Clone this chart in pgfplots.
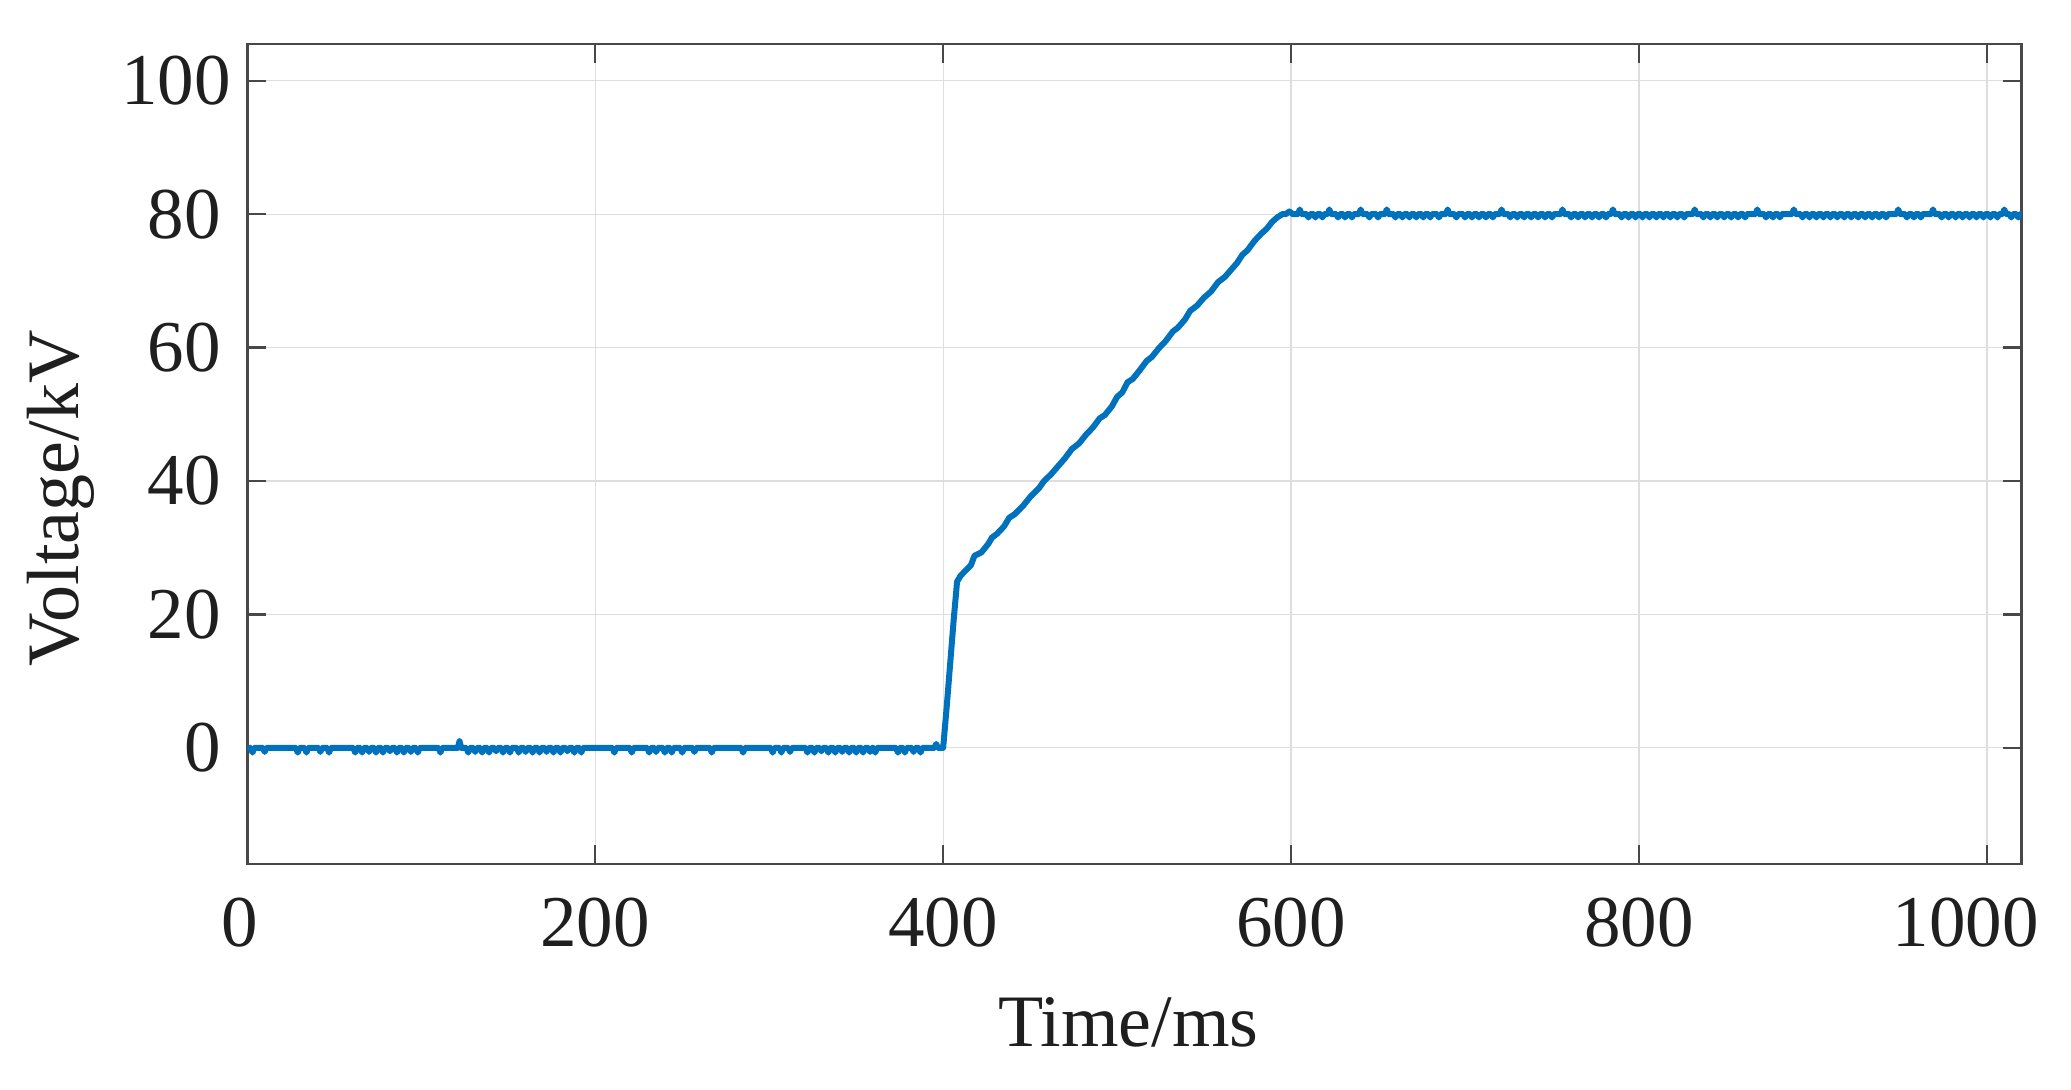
\documentclass[border=0pt]{standalone}
\usepackage{fontspec}
\setmainfont{Liberation Serif}
\usepackage{pgfplots}
\pgfplotsset{compat=1.18}
\definecolor{mblue}{RGB}{0,114,189}
\definecolor{axgray}{RGB}{72,72,72}
\definecolor{gridgray}{RGB}{222,222,222}
\begin{document}
\begin{tikzpicture}
\begin{axis}[
  name=ax,
  scale only axis,
  width=887.2pt,height=410pt,
  xmin=0,xmax=1020,ymin=-17.4,ymax=105.5,
  xtick={0,200,400,600,800,1000},
  xticklabels={{0\rule{8pt}{0pt}},200,400,600,800,{1000\rule{21pt}{0pt}}},
  ytick={0,20,40,60,80,100},
  yticklabels={0,20,40,60,80,{100\kern-5pt}},
  tick pos=both,
  tick align=inside,
  major tick length=9.5pt,
  every tick/.style={axgray,line width=1.1pt},
  grid=major,
  major grid style={gridgray,line width=0.6pt},
  axis line style={axgray,line width=1.4pt},
  tick label style={font=\fontsize{36.5}{40}\selectfont,text=black!88},
  xticklabel style={anchor=north,inner sep=0pt,yshift=-17pt},
  yticklabel style={anchor=east,inner sep=0pt,xshift=-13pt},
  label style={font=\fontsize{37}{42}\selectfont,text=black!88},
  xlabel={Time/ms},
  ylabel={Voltage/kV},
  xlabel style={at={(axis description cs:0.4966,-0.222)},anchor=base},
  ylabel style={at={(axis description cs:-0.0952,0.4457)},anchor=base},
]
\addplot[mblue,line width=3pt,line join=round] coordinates {
(0,0)(2,0)(3,-0.7)(4,0)(9,0)(10,-0.6)(11,0)(28,0)(29,-0.7)(30,0)(33,0)(34,-0.7)(35,0)(41,0)(42,-0.6)(43,0)(46,0)(47,-0.7)(48,0)
(61,0)(62,-0.7)(63,0)(65,0)(66,-0.7)(67,0)(69,0)(70,-0.6)(71,0)(73,0)(74,-0.7)(75,0)(77,0)(78,-0.7)(79,0)(81,0)(82,-0.5)(83,0)(85,0)(86,-0.7)(87,0)(89,0)(90,-0.7)(91,0)(93,0)(94,-0.6)(95,0)(97,0)(98,-0.7)(99,0)
(110,0)(111,-0.7)(112,0)(121,0)(122,1.0)(123,0)
(126,0)(127,-0.7)(128,0)(130,0)(131,-0.6)(132,0)(134,0)(135,-0.7)(136,0)(138,0)(139,-0.7)(140,0)(142,0)(143,-0.5)(144,0)(146,0)(147,-0.7)(148,0)(150,0)(151,-0.7)(152,0)
(155,0)(156,-0.7)(157,0)(159,0)(160,-0.6)(161,0)(163,0)(164,-0.7)(165,0)(167,0)(168,-0.7)(169,0)(171,0)(172,-0.6)(173,0)(175,0)(176,-0.7)(177,0)(179,0)(180,-0.7)(181,0)(183,0)(184,-0.5)(185,0)(187,0)(188,-0.7)(189,0)(191,0)(192,-0.7)(193,0)
(210,0)(211,-0.7)(212,0)(220,0)(221,-0.7)(222,0)(230,0)(231,-0.7)(232,0)(234,0)(235,-0.6)(236,0)(239,0)(240,-0.7)(241,0)(243,0)(244,-0.7)(245,0)(249,0)(250,-0.7)(251,0)(256,0)(257,-0.6)(258,0)(266,0)(267,-0.7)(268,0)(284,0)(285,-0.7)(286,0)
(301,0)(302,-0.7)(303,0)(306,0)(307,-0.7)(308,0)(311,0)(312,-0.6)(313,0)
(321,0)(322,-0.7)(323,0)(325,0)(326,-0.7)(327,0)(329,0)(330,-0.5)(331,0)(333,0)(334,-0.7)(335,0)(337,0)(338,-0.7)(339,0)(341,0)(342,-0.6)(343,0)(345,0)(346,-0.7)(347,0)(349,0)(350,-0.7)(351,0)(353,0)(354,-0.7)(355,0)(357,0)(358,-0.6)(359,0)(360,0)(361,-0.7)(362,0)
(373,0)(374,-0.7)(375,0)(377,0)(378,-0.7)(379,0)(382,0)(383,-0.6)(384,0)(386,0)(387,-0.7)(388,0)(395,0)(396,0.6)(397,0)(400,0)
(402,6)(404,12.5)(406,19)(408,24.9)(410,25.8)(413,26.6)(416,27.4)(418,28.8)(422,29.3)(426,30.6)(428,31.5)(431,32.1)(435,33.2)(438,34.5)(441,35.0)(446,36.3)(450,37.6)(455,38.9)(458,40.0)(462,41.0)(466,42.2)(470,43.4)(474,44.8)(478,45.6)(482,46.9)(486,48.0)(490,49.4)(493,49.9)(497,51.2)(500,52.6)(503,53.3)(506,54.8)(509,55.3)(513,56.6)(517,58.0)(520,58.6)(524,59.9)(528,61.0)(532,62.4)(535,63.0)(539,64.2)(542,65.5)(546,66.3)(550,67.5)(554,68.4)(558,69.8)(562,70.6)(566,71.8)(569,72.7)(572,73.9)(575,74.6)(579,76.0)(583,77.1)(586,77.8)(589,78.8)(592,79.5)(595,80.0)
(597,80)(599,80.4)(601,80)(604,80)(605,80.7)(606,80)(609,80)(610,79.5)(611,80)(613,80)(614,79.5)(615,80)(617,80)(618,79.5)(619,80)(621,80)(622,80.7)(623,80)(626,80)(627,79.5)(628,80)(630,80)(631,79.5)(632,80)(634,80)(635,79.5)(636,80)(639,80)(640,80.7)(641,80)(644,80)(645,79.5)(646,80)(649,80)(650,79.5)(651,80)(654,80)(655,80.7)(656,80)(659,80)(660,79.5)(661,80)(663,80)(664,79.5)(665,80)(667,80)(668,79.5)(669,80)(671,80)(672,79.5)(673,80)(675,80)(676,79.5)(677,80)(679,80)(680,79.5)(681,80)(684,80)(685,79.5)(686,80)(689,80)(690,80.7)(691,80)(694,80)(695,79.5)(696,80)(699,80)(700,79.5)(701,80)(703,80)(704,79.5)(705,80)(707,80)(708,79.5)(709,80)(711,80)(712,79.5)(713,80)(715,80)(716,79.5)(717,80)(720,80)(721,80.7)(722,80)(725,80)(726,79.5)(727,80)(729,80)(730,79.5)(731,80)(733,80)(734,79.5)(735,80)(737,80)(738,79.5)(739,80)(741,80)(742,79.5)(743,80)(745,80)(746,79.5)(747,80)(749,80)(750,79.5)(751,80)(755,80)(756,80.7)(757,80)(760,80)(761,79.5)(762,80)(764,80)(765,79.5)(766,80)(768,80)(769,79.5)(770,80)(772,80)(773,79.5)(774,80)(776,80)(777,79.5)(778,80)(780,80)(781,79.5)(782,80)(784,80)(785,80.7)(786,80)(789,80)(790,79.5)(791,80)(793,80)(794,79.5)(795,80)(797,80)(798,79.5)(799,80)(801,80)(802,79.5)(803,80)(805,80)(806,79.5)(807,80)(809,80)(810,79.5)(811,80)(813,80)(814,79.5)(815,80)(817,80)(818,79.5)(819,80)(821,80)(822,79.5)(823,80)(825,80)(826,79.5)(827,80)(831,80)(832,80.7)(833,80)(836,80)(837,79.5)(838,80)(840,80)(841,79.5)(842,80)(844,80)(845,79.5)(846,80)(848,80)(849,79.5)(850,80)(852,80)(853,79.5)(854,80)(856,80)(857,79.5)(858,80)(860,80)(861,79.5)(862,80)(867,80)(868,80.7)(869,80)(872,80)(873,79.5)(874,80)(876,80)(877,79.5)(878,80)(880,80)(881,79.5)(882,80)(888,80)(889,80.7)(890,80)(893,80)(894,79.5)(895,80)(897,80)(898,79.5)(899,80)(901,80)(902,79.5)(903,80)(905,80)(906,79.5)(907,80)(909,80)(910,79.5)(911,80)(913,80)(914,79.5)(915,80)(917,80)(918,79.5)(919,80)(921,80)(922,79.5)(923,80)(925,80)(926,79.5)(927,80)(929,80)(930,79.5)(931,80)(933,80)(934,79.5)(935,80)(937,80)(938,79.5)(939,80)(941,80)(942,79.5)(943,80)(948,80)(949,80.7)(950,80)(953,80)(954,79.5)(955,80)(957,80)(958,79.5)(959,80)(961,80)(962,79.5)(963,80)(968,80)(969,80.7)(970,80)(973,80)(974,79.5)(975,80)(977,80)(978,79.5)(979,80)(981,80)(982,79.5)(983,80)(985,80)(986,79.5)(987,80)(989,80)(990,79.5)(991,80)(993,80)(994,79.5)(995,80)(997,80)(998,79.5)(999,80)(1001,80)(1002,79.5)(1003,80)(1005,80)(1006,79.5)(1007,80)(1009,80)(1010,80.7)(1011,80)(1013,80)(1014,79.5)(1015,80)(1017,80)(1018,79.5)(1019,80)(1020,80)
};
\end{axis}
\path (ax.south west) ++(-123.65pt,-113pt) coordinate (bbA);
\path (ax.north east) ++(24.65pt,22pt) coordinate (bbB);
\pgfresetboundingbox
\path (bbA) rectangle (bbB);
\end{tikzpicture}
\end{document}
